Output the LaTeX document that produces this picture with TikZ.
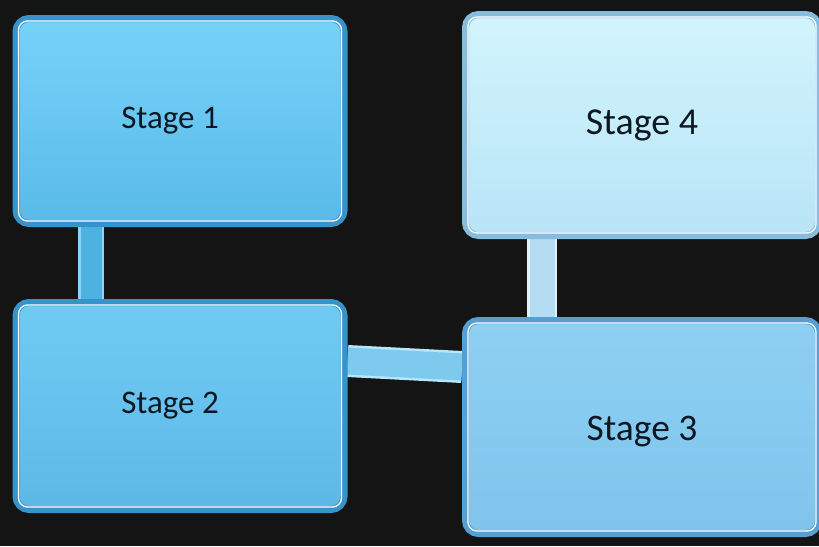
\documentclass[tikz,border=0pt]{standalone}
\usepackage{fontspec}
\setmainfont{Carlito}
\usetikzlibrary{backgrounds}
\definecolor{bgdark}{HTML}{141414}
\definecolor{inktext}{HTML}{0E1822}
\definecolor{rimdeep}{HTML}{3794CB}
\definecolor{rimmid}{HTML}{559FD2}
\definecolor{rimpale}{HTML}{86BCDD}
\definecolor{onetop}{HTML}{76D2F9}
\definecolor{onebot}{HTML}{5ABAE8}
\definecolor{twotop}{HTML}{6FCBF3}
\definecolor{twobot}{HTML}{5EB8E6}
\definecolor{thrtop}{HTML}{8ED0F3}
\definecolor{thrbot}{HTML}{80C4EC}
\definecolor{fourtop}{HTML}{D2F5FC}
\definecolor{fourbot}{HTML}{B8E4F7}
\definecolor{baraedge}{HTML}{8BD3F4}
\definecolor{barafill}{HTML}{4DB2E2}
\definecolor{barbedge}{HTML}{DDF3FC}
\definecolor{barbfill}{HTML}{B4DCF2}
\definecolor{barcedge}{HTML}{B6E6FA}
\definecolor{barcfill}{HTML}{7DCAEE}
\tikzset{
  stagebox/.style={draw=#1, line width=7pt, rounded corners=13pt,
    text=inktext, inner sep=0pt},
  bar/.style={line width=2.5pt, double distance=#1}
}
\begin{document}
\begin{tikzpicture}[x=1pt,y=-1pt]
  \useasboundingbox (0,0) rectangle (819,546);
  \node[stagebox=rimdeep, top color=onetop, bottom color=onebot,
    minimum width=328pt, minimum height=205pt, font=\fontsize{33}{40}\selectfont]
    (s1) at (180,121) {Stage 1\kern20pt};
  \node[stagebox=rimdeep, top color=twotop, bottom color=twobot,
    minimum width=328pt, minimum height=207pt, font=\fontsize{33}{40}\selectfont]
    (s2) at (180,406) {Stage 2\kern20pt};
  \node[stagebox=rimmid, top color=thrtop, bottom color=thrbot,
    minimum width=353pt, minimum height=213pt, font=\fontsize{37.5}{44}\selectfont]
    (s3) at (642,427) {\raisebox{-5pt}[\height][\depth]{Stage 3}};
  \node[stagebox=rimpale, top color=fourtop, bottom color=fourbot,
    minimum width=353pt, minimum height=221pt, font=\fontsize{38}{45}\selectfont]
    (s4) at (642,125) {Stage 4};
  \foreach \s in {s1,s2,s3,s4}
    \draw[white, line width=1.3pt, rounded corners=9pt]
      ([shift={(6pt,-6pt)}]\s.north west) rectangle ([shift={(-6pt,6pt)}]\s.south east);
  \begin{pgfonlayer}{background}
    \fill[bgdark] (0,0) rectangle (819,546);
    \draw[bar=21pt, draw=baraedge, double=barafill]
      ([xshift=-89pt]s1.south) -- ([xshift=-89pt]s2.north);
    \draw[bar=25pt, draw=barbedge, double=barbfill]
      ([xshift=-100pt]s4.south) -- ([xshift=-100pt]s3.north);
    \draw[bar=27pt, draw=barcedge, double=barcfill]
      ([yshift=45pt]s2.east) -- ([yshift=60pt]s3.west);
  \end{pgfonlayer}
\end{tikzpicture}
\end{document}
